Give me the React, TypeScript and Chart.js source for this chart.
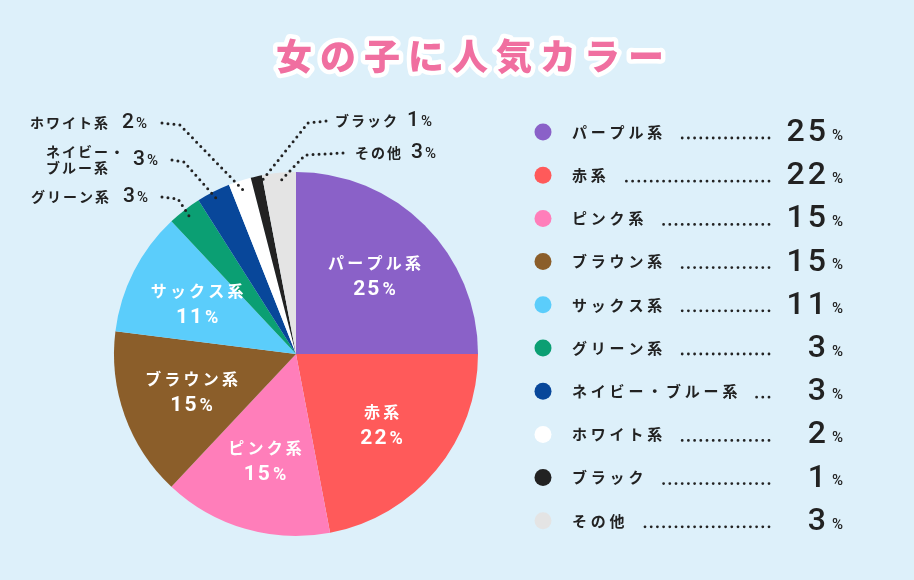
import React, { useEffect, useRef } from "react";
import { Chart, registerables } from "chart.js";

Chart.register(...registerables);

const titleText = "女の子に人気カラー";
const categories = [
  "パープル系",
  "赤系",
  "ピンク系",
  "ブラウン系",
  "サックス系",
  "グリーン系",
  "ネイビー・ブルー系",
  "ホワイト系",
  "ブラック",
  "その他",
];
const percentages = [25, 22, 15, 15, 11, 3, 3, 2, 1, 3];
const sliceColors = [
  "#8a61c8",
  "#ff5a5a",
  "#ff7eba",
  "#8b5e2a",
  "#5bcdfb",
  "#0b9f73",
  "#08479a",
  "#ffffff",
  "#222222",
  "#e4e4e4",
];

const BG = "#ddf0fa";
const TEXT_DARK = "#222222";
const JP = '"Noto Sans CJK JP", "Noto Sans", sans-serif';
const NUM = 'Roboto, "Noto Sans", sans-serif';

// layout for small slices' outside labels (index -> placement)
const outsideLayout: Record<number, { side: "left" | "right"; tx: number; ty: number; lead: number; elbow: number }> = {
  5: { side: "left", tx: 148, ty: 197, lead: 162, elbow: 178 },
  6: { side: "left", tx: 158, ty: 160, lead: 172, elbow: 184 },
  7: { side: "left", tx: 147, ty: 123, lead: 162, elbow: 180 },
  8: { side: "right", tx: 335, ty: 121, lead: 326, elbow: 308 },
  9: { side: "right", tx: 355, ty: 153, lead: 343, elbow: 305 },
};

function drawText(
  ctx: CanvasRenderingContext2D,
  text: string,
  x: number,
  y: number,
  font: string,
  color: string,
  spacing: number,
  align: "left" | "right" | "center"
) {
  ctx.save();
  ctx.font = font;
  (ctx as any).letterSpacing = spacing + "px";
  ctx.fillStyle = color;
  ctx.textBaseline = "middle";
  ctx.textAlign = "left";
  const w = ctx.measureText(text).width - spacing;
  let sx = x;
  if (align === "right") sx = x - w;
  else if (align === "center") sx = x - w / 2;
  ctx.fillText(text, sx, y);
  ctx.restore();
  return w;
}

function measure(ctx: CanvasRenderingContext2D, text: string, font: string, spacing: number) {
  ctx.save();
  ctx.font = font;
  (ctx as any).letterSpacing = spacing + "px";
  const w = ctx.measureText(text).width - spacing;
  ctx.restore();
  return w;
}

function dotted(ctx: CanvasRenderingContext2D, pts: number[][], gap: number, width: number) {
  ctx.save();
  ctx.strokeStyle = TEXT_DARK;
  ctx.fillStyle = TEXT_DARK;
  ctx.lineWidth = width;
  ctx.lineCap = "round";
  ctx.setLineDash([0, gap]);
  ctx.beginPath();
  ctx.moveTo(pts[0][0], pts[0][1]);
  for (let i = 1; i < pts.length; i++) ctx.lineTo(pts[i][0], pts[i][1]);
  ctx.stroke();
  ctx.restore();
}

const decorPlugin = {
  id: "decor",
  beforeDraw(chart: any) {
    const ctx = chart.ctx as CanvasRenderingContext2D;
    ctx.save();
    ctx.fillStyle = BG;
    ctx.fillRect(0, 0, chart.width, chart.height);
    ctx.restore();
  },
  afterDraw(chart: any) {
    const ctx = chart.ctx as CanvasRenderingContext2D;
    const meta = chart.getDatasetMeta(0);

    // title
    ctx.save();
    const tFont = `900 36px ${JP}`;
    ctx.font = tFont;
    (ctx as any).letterSpacing = "8px";
    const tw = ctx.measureText(titleText).width - 8;
    const tx = 470 - tw / 2;
    ctx.textBaseline = "middle";
    ctx.lineJoin = "round";
    ctx.strokeStyle = "#ffffff";
    ctx.lineWidth = 9;
    ctx.strokeText(titleText, tx, 56);
    ctx.fillStyle = "#f06fa0";
    ctx.fillText(titleText, tx, 56);
    ctx.restore();

    // slice labels
    meta.data.forEach((arc: any, i: number) => {
      const p = arc.getProps(["x", "y", "startAngle", "endAngle", "outerRadius"], true);
      const mid = (p.startAngle + p.endAngle) / 2;
      if (percentages[i] >= 10) {
        const r = p.outerRadius * 0.61;
        const cx = p.x + Math.cos(mid) * r;
        const cy = p.y + Math.sin(mid) * r;
        drawText(ctx, categories[i], cx, cy - 13, `bold 16px ${JP}`, "#ffffff", 3.2, "center");
        const numStr = String(percentages[i]);
        const nFont = `bold 21px ${NUM}`;
        const pFont = `bold 18px ${NUM}`;
        const nw = measure(ctx, numStr, nFont, 2);
        const pw = measure(ctx, "%", pFont, 0);
        const total = nw + 3 + pw;
        const sx = cx - total / 2;
        drawText(ctx, numStr, sx, cy + 14, nFont, "#ffffff", 2, "left");
        drawText(ctx, "%", sx + nw + 3, cy + 15, pFont, "#ffffff", 0, "left");
      } else {
        const L = outsideLayout[i];
        if (!L) return;
        const ar = p.outerRadius * 0.95;
        const ax = p.x + Math.cos(mid) * ar;
        const ay = p.y + Math.sin(mid) * ar;
        dotted(ctx, [[L.lead, L.ty], [L.elbow, L.ty + 2], [ax, ay]], 6, 3);
        const nameFont = `bold 14px ${JP}`;
        const numFont = `500 21px ${NUM}`;
        const pcFont = `500 15px ${NUM}`;
        const numStr = String(percentages[i]);
        if (L.side === "left") {
          const pw = drawText(ctx, "%", L.tx, L.ty + 1, pcFont, TEXT_DARK, 0, "right");
          const nw = drawText(ctx, numStr, L.tx - pw - 2, L.ty, numFont, TEXT_DARK, 0, "right");
          const name = categories[i];
          const dotIdx = name.indexOf("・");
          if (dotIdx >= 0) {
            const nameRight = L.tx - pw - 2 - nw - 9;
            const l1 = name.slice(0, dotIdx + 1);
            const l2 = name.slice(dotIdx + 1);
            const l1w = measure(ctx, l1, nameFont, 2);
            const leftX = nameRight - l1w;
            drawText(ctx, l1, leftX, L.ty - 8, nameFont, TEXT_DARK, 2, "left");
            drawText(ctx, l2, leftX, L.ty + 8, nameFont, TEXT_DARK, 2, "left");
          } else {
            const nameRight = L.tx - pw - 2 - nw - 14;
            drawText(ctx, name, nameRight, L.ty, nameFont, TEXT_DARK, 2, "right");
          }
        } else {
          const w = drawText(ctx, categories[i], L.tx, L.ty, nameFont, TEXT_DARK, 2, "left");
          const nx = L.tx + w + 10;
          const nw = drawText(ctx, numStr, nx, L.ty, numFont, TEXT_DARK, 0, "left");
          drawText(ctx, "%", nx + nw + 2, L.ty + 1, pcFont, TEXT_DARK, 0, "left");
        }
      }
    });

    // legend
    const rowTop = 132;
    const rowStep = 43.2;
    categories.forEach((name, i) => {
      const y = rowTop + i * rowStep;
      ctx.save();
      ctx.fillStyle = sliceColors[i];
      ctx.beginPath();
      ctx.arc(543, y, 8.5, 0, Math.PI * 2);
      ctx.fill();
      ctx.restore();
      const w = drawText(ctx, name, 572, y, `bold 15px ${JP}`, TEXT_DARK, 3.8, "left");
      const start = 572 + w + 15;
      const end = 769;
      if (end > start) {
        // align dots so the last one lands at `end`
        const gap = 6.2;
        const n = Math.floor((end - start) / gap);
        const s = end - n * gap;
        dotted(ctx, [[s, y + 6], [end + 0.5, y + 6]], gap, 2.8);
      }
      const pw = drawText(ctx, "%", 843, y + 4, `500 15px ${NUM}`, TEXT_DARK, 0, "right");
      drawText(ctx, String(percentages[i]), 843 - pw - 6, y + 1, `500 32px ${NUM}`, TEXT_DARK, 3, "right");
    });
  },
};

export default function App() {
  const ref = useRef<HTMLCanvasElement | null>(null);
  useEffect(() => {
    document.body.style.margin = "0";
    const canvas = ref.current!;
    const chart = new Chart(canvas, {
      type: "pie",
      data: {
        labels: categories,
        datasets: [
          {
            data: percentages,
            backgroundColor: sliceColors,
            borderWidth: 0,
          },
        ],
      },
      options: {
        responsive: false,
        animation: false,
        events: [],
        layout: { padding: { left: 114, right: 436, top: 172, bottom: 44 } },
        plugins: {
          legend: { display: false },
          tooltip: { enabled: false },
          title: { display: false },
        },
      },
      plugins: [decorPlugin],
    });
    return () => chart.destroy();
  }, []);
  return (
    <div style={{ position: "fixed", left: 0, top: 0, width: 914, height: 580, background: BG }}>
      <canvas ref={ref} width={914} height={580} style={{ display: "block" }} />
    </div>
  );
}
